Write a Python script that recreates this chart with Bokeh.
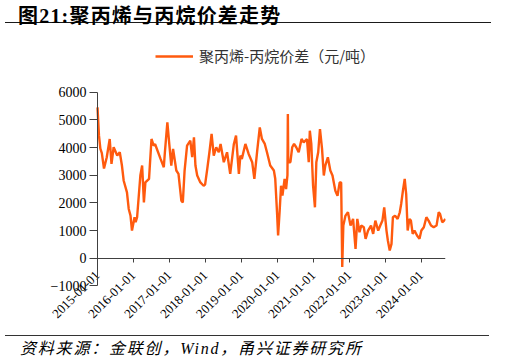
import pandas as pd
from math import pi
from bokeh.plotting import figure
from bokeh.models import (Range1d, FixedTicker, DatetimeTickFormatter, Legend,
                          LegendItem, Div)
from bokeh.layouts import column
from bokeh.embed import file_html
from bokeh.resources import INLINE

title_text = "图21:聚丙烯与丙烷价差走势"
series_name = "聚丙烯-丙烷价差（元/吨）"
source_text = "资料来源：金联创，Wind，甬兴证券研究所"

dates = [
    "2015-01-01", "2015-01-16", "2015-01-30", "2015-02-14", "2015-03-08", "2015-04-05",
    "2015-05-05", "2015-05-23", "2015-06-14", "2015-07-20", "2015-08-15", "2015-09-06",
    "2015-09-24", "2015-10-27", "2015-11-14", "2015-12-02", "2015-12-17", "2016-01-12",
    "2016-01-23", "2016-02-07", "2016-03-11", "2016-03-29", "2016-04-16", "2016-05-01",
    "2016-06-07", "2016-07-02", "2016-07-24", "2016-08-08", "2016-10-02", "2016-11-04",
    "2016-11-15", "2016-12-10", "2016-12-28", "2017-01-19", "2017-02-06", "2017-03-11",
    "2017-04-02", "2017-05-01", "2017-05-16", "2017-06-03", "2017-06-28", "2017-07-31",
    "2017-08-19", "2017-09-06", "2017-09-21", "2017-10-09", "2017-11-10", "2017-12-13",
    "2017-12-28", "2018-01-19", "2018-02-10", "2018-03-04", "2018-03-26", "2018-04-20",
    "2018-05-16", "2018-06-03", "2018-07-06", "2018-08-08", "2018-09-09", "2018-10-16",
    "2018-11-07", "2018-12-06", "2018-12-21", "2019-01-05", "2019-02-10", "2019-03-15",
    "2019-04-20", "2019-05-12", "2019-06-10", "2019-07-06", "2019-07-28", "2019-08-26",
    "2019-09-17", "2019-10-20", "2019-11-26", "2019-12-10", "2019-12-28", "2020-01-08",
    "2020-01-23", "2020-02-07", "2020-02-21", "2020-03-14", "2020-03-29", "2020-04-12",
    "2020-04-16", "2020-04-20", "2020-05-12", "2020-05-30", "2020-06-18", "2020-07-10",
    "2020-08-04", "2020-09-02", "2020-09-24", "2020-10-27", "2020-11-14", "2020-11-25",
    "2020-12-10", "2020-12-28", "2021-01-16", "2021-01-30", "2021-02-18", "2021-03-08",
    "2021-03-29", "2021-04-16", "2021-05-01", "2021-05-27", "2021-06-21", "2021-07-13",
    "2021-08-11", "2021-09-02", "2021-09-24", "2021-10-09", "2021-10-20", "2021-10-31",
    "2021-11-22", "2021-12-17", "2022-01-12", "2022-02-07", "2022-03-04", "2022-03-22",
    "2022-04-13", "2022-05-01", "2022-05-27", "2022-06-14", "2022-07-09", "2022-08-08",
    "2022-08-30", "2022-09-21", "2022-10-20", "2022-11-10", "2022-12-02", "2022-12-20",
    "2023-01-12", "2023-01-26", "2023-02-14", "2023-03-04", "2023-03-18", "2023-04-09",
    "2023-05-05", "2023-05-27", "2023-06-10", "2023-06-28", "2023-07-16", "2023-07-31",
    "2023-08-15", "2023-09-02", "2023-09-17", "2023-10-05", "2023-10-23", "2023-11-18",
    "2023-12-13", "2024-01-01", "2024-01-26", "2024-02-21", "2024-03-14", "2024-04-08",
    "2024-05-05", "2024-06-03", "2024-06-25", "2024-07-09", "2024-07-31", "2024-08-19",
    "2024-09-02",
]
spread = [
    5450, 4430, 3960, 3800, 3240, 3650,
    4310, 3410, 4010, 3710, 3830, 3350,
    2800, 2380, 1780, 1540, 1000, 1480,
    1300, 1480, 2990, 3350, 2020, 2740,
    2870, 4310, 4070, 4120, 3590, 3290,
    3830, 4910, 4190, 3350, 3950, 3170,
    3050, 2080, 2020, 3170, 4070, 4250,
    3650, 4370, 3350, 2990, 2740, 2620,
    2660, 3230, 3830, 4490, 3710, 4010,
    3830, 4130, 3470, 3830, 3050, 4130,
    4430, 3050, 3710, 3590, 4130, 3770,
    3470, 2870, 3890, 4730, 4310, 4130,
    3830, 3350, 3170, 2870, 1660, 820,
    1660, 2620, 2260, 2870, 2500, 3000,
    5210, 3470, 3470, 4010, 4130, 4010,
    3830, 4310, 4190, 4310, 3470, 4610,
    4130, 2620, 1840, 3470, 3830, 4670,
    3950, 2990, 3350, 3650, 3170, 2990,
    2440, 2260, 2740, 2740, -320, 1180,
    1540, 1660, 1180, 1420, 340, 1420,
    940, 1180, 1120, 700, 1000, 1180,
    880, 1360, 1000, 1180, 1360, 1840,
    1000, 640, 280, 520, 1480, 1540,
    1420, 1660, 1960, 2440, 2870, 2320,
    1000, 1420, 1360, 880, 1000, 820,
    700, 1000, 1120, 1480, 1360, 1180,
    1120, 1180, 1660, 1600, 1300, 1360,
    1420,
]
tick_dates = ["2015-01-01", "2016-01-01", "2017-01-01", "2018-01-01", "2019-01-01",
              "2020-01-01", "2021-01-01", "2022-01-01", "2023-01-01", "2024-01-01"]
y_ticks = [-1000, 0, 1000, 2000, 3000, 4000, 5000, 6000]

x = pd.to_datetime(dates)
tick_ms = [int(pd.Timestamp(d).value // 10**6) for d in tick_dates]
x0_ms = int(x[0].value // 10**6)
x1_ms = int(x[-1].value // 10**6)

LINE_COLOR = "#FF5A0E"
SERIF = "Liberation Serif"

# layout geometry (screen pixels)
FIG_W, FRAME_L, AXIS_X, FRAME_R = 509, 20, 97, 445
span_ms = x1_ms - x0_ms
x_start = x0_ms - (AXIS_X - FRAME_L) / (FRAME_R - AXIS_X) * span_ms

p = figure(width=FIG_W, height=305, x_axis_type="datetime",
           output_backend="svg", toolbar_location=None,
           x_range=Range1d(x_start, x1_ms), y_range=Range1d(-2648, 8230),
           min_border_left=FRAME_L, min_border_right=FIG_W - FRAME_R,
           min_border_top=0, min_border_bottom=4)
r = p.line(x, spread, line_color=LINE_COLOR, line_width=2.4)

legend = Legend(items=[LegendItem(label=series_name, renderers=[r])],
                location=(155 - FRAME_L, 265), orientation="horizontal",
                glyph_width=38, glyph_height=14, label_standoff=6,
                padding=0, margin=0, border_line_alpha=0,
                background_fill_alpha=0,
                label_text_font="Noto Sans CJK SC", label_text_font_size="15px",
                label_text_color="#333333")
p.add_layout(legend)

p.xgrid.visible = False
p.ygrid.visible = False
p.outline_line_color = None

xa = p.xaxis[0]
xa.ticker = FixedTicker(ticks=tick_ms)
fmt = "%Y-%m-%d"
xa.formatter = DatetimeTickFormatter(years=fmt, months=fmt, days=fmt, hours=fmt,
                                     minutes=fmt, seconds=fmt, milliseconds=fmt,
                                     hourmin=fmt, minsec=fmt)
xa.fixed_location = 0
xa.bounds = (x0_ms, x1_ms)
xa.major_label_orientation = pi / 4
xa.major_label_text_font = SERIF
xa.major_label_text_font_size = "13px"
xa.major_label_text_color = "black"
xa.major_tick_out = 4
xa.major_tick_in = 0
xa.minor_tick_out = 0
xa.minor_tick_in = 0
xa.axis_line_color = "#404040"
xa.major_tick_line_color = "#404040"
xa.major_label_standoff = 11

ya = p.yaxis[0]
ya.ticker = FixedTicker(ticks=y_ticks)
ya.fixed_location = x0_ms
ya.bounds = (-1000, 6000)
ya.major_label_text_font = SERIF
ya.major_label_text_font_size = "14px"
ya.major_label_text_color = "black"
ya.major_tick_out = 8
ya.major_tick_in = 0
ya.minor_tick_out = 0
ya.minor_tick_in = 0
ya.axis_line_color = "#404040"
ya.major_tick_line_color = "#404040"
ya.major_label_standoff = 3

title_div = Div(
    text=("<div style=\"font-family:'Liberation Serif','Noto Sans CJK SC';"
          "font-weight:bold;font-size:20px;line-height:23px;margin-left:5px;"
          "padding-left:13px;padding-top:5px;letter-spacing:1.2px;"
          "border-bottom:1px solid #1a1a1a;height:23px;width:486px;\">"
          + title_text + "</div>"),
    width=509, height=30, margin=0)

source_div = Div(
    text=("<div style=\"font-family:'Liberation Serif','Noto Sans CJK SC';"
          "font-style:italic;font-size:16px;line-height:20px;margin-left:5px;"
          "padding-left:15px;letter-spacing:1.8px;border-top:1px solid #333;"
          "height:22px;width:484px;padding-top:3px\">"
          + source_text + "</div>"),
    width=509, height=28, margin=0)

layout = column(title_div, p, source_div, spacing=0)

open("out.html", "w").write(file_html(layout, INLINE))
